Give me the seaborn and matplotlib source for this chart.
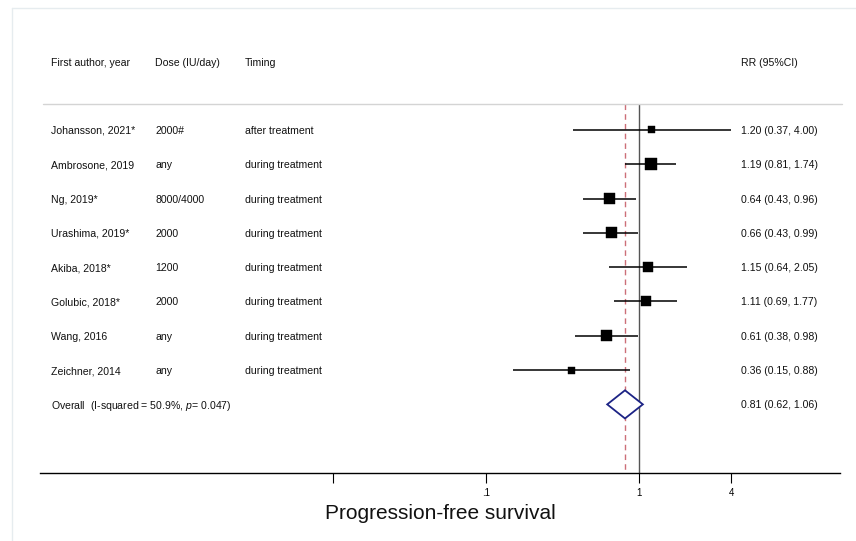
import numpy as np
import pandas as pd
import matplotlib
matplotlib.use("Agg")
import matplotlib.pyplot as plt
import seaborn as sns
from matplotlib import transforms
from matplotlib.patches import Polygon
from matplotlib.lines import Line2D
from matplotlib.ticker import NullLocator, FixedLocator, FixedFormatter

# ---------------- data ----------------
authors = ["Johansson, 2021*", "Ambrosone, 2019", "Ng, 2019*", "Urashima, 2019*",
           "Akiba, 2018*", "Golubic, 2018*", "Wang, 2016", "Zeichner, 2014"]
doses = ["2000#", "any", "8000/4000", "2000", "1200", "2000", "any", "any"]
timings = ["after treatment", "during treatment", "during treatment", "during treatment",
           "during treatment", "during treatment", "during treatment", "during treatment"]
rr = [1.20, 1.19, 0.64, 0.66, 1.15, 1.11, 0.61, 0.36]
ci_low = [0.37, 0.81, 0.43, 0.43, 0.64, 0.69, 0.38, 0.15]
ci_high = [4.00, 1.74, 0.96, 0.99, 2.05, 1.77, 0.98, 0.88]
weights = [6.0, 17.6, 15.2, 15.2, 12.4, 12.4, 15.2, 6.0]
overall_rr = 0.81
overall_low = 0.62
overall_high = 1.06
overall_label = "Overall  (I-squared = 50.9%, $p$= 0.047)"
headers = ["First author, year", "Dose (IU/day)", "Timing", "RR (95%CI)"]
xtick_values = [0.01, 0.1, 1, 4]
xtick_labels = ["", ".1", "1", "4"]
xlabel = "Progression-free survival"

# ---------------- style ----------------
sns.set_style("white")
plt.rcParams["font.family"] = ["Liberation Sans", "DejaVu Sans"]
plt.rcParams["mathtext.fontset"] = "custom"
plt.rcParams["mathtext.it"] = "Liberation Sans:italic"
plt.rcParams["mathtext.rm"] = "Liberation Sans"

df = pd.DataFrame({"rr": rr, "lo": ci_low, "hi": ci_high, "w": weights,
                   "row": np.arange(len(rr))})
n = len(rr)
overall_row = n

fig = plt.figure(figsize=(8.56, 5.41), dpi=100)
W, H = 856, 541
ax = fig.add_axes([40 / W, 68 / H, 800 / W, 446 / H])
ax.set_xscale("log")

txtc = "#111111"
sep_y = -0.76

# reference lines
ax.vlines(1, sep_y, 10, color="#555555", lw=1.0, zorder=1)
ax.vlines(overall_rr, sep_y, 10, color="#cc6f78", lw=1.0,
          linestyles=(0, (4, 3)), zorder=1)

# CI lines and squares
ax.hlines(df["row"], df["lo"], df["hi"], color="black", lw=1.1, zorder=2)
sns.scatterplot(data=df, x="rr", y="row", size="w", sizes=(25, 74), marker="s",
                color="black", edgecolor="black", linewidth=0.3, legend=False,
                ax=ax, zorder=3)

# overall diamond
h = 0.41
diamond = Polygon([(overall_low, overall_row), (overall_rr, overall_row - h),
                   (overall_high, overall_row), (overall_rr, overall_row + h)],
                  closed=True, facecolor="white", edgecolor="#1c2385", lw=1.3, zorder=4)
ax.add_patch(diamond)

ax.set_xlim(1.216e-4, 20.6)
ax.set_ylim(10, -3)
ax.set_yticks([])
ax.set_ylabel("")
for s in ["top", "left", "right"]:
    ax.spines[s].set_visible(False)
ax.spines["bottom"].set_color("black")
ax.spines["bottom"].set_linewidth(1.0)
ax.xaxis.set_major_locator(FixedLocator(xtick_values))
ax.xaxis.set_major_formatter(FixedFormatter(xtick_labels))
ax.xaxis.set_minor_locator(NullLocator())
ax.tick_params(axis="x", length=7, width=0.8, pad=4, labelsize=7,
               direction="out", colors="black", bottom=True)
ax.set_xlabel(xlabel, fontsize=15, labelpad=4, color=txtc)

# separator line
tr = transforms.blended_transform_factory(ax.transAxes, ax.transData)
ax.plot([0.004, 1.0025], [sep_y, sep_y], transform=tr,
        color="#d4d4d4", lw=1.0, clip_on=False)

# text columns
col_x = [0.01375, 0.14375, 0.25625, 0.876]
fs = 7.6
va = "center_baseline"
for cx, htxt in zip(col_x, headers):
    ax.text(cx, -1.98, htxt, transform=tr, fontsize=fs, va=va, ha="left", color=txtc)
for i in range(n):
    ax.text(col_x[0], i, authors[i], transform=tr, fontsize=fs, va=va, color=txtc)
    ax.text(col_x[1], i, doses[i], transform=tr, fontsize=fs, va=va, color=txtc)
    ax.text(col_x[2], i, timings[i], transform=tr, fontsize=fs, va=va, color=txtc)
    ax.text(col_x[3], i, f"{rr[i]:.2f} ({ci_low[i]:.2f}, {ci_high[i]:.2f})",
            transform=tr, fontsize=fs, va=va, color=txtc)
ax.text(col_x[0], overall_row, overall_label, transform=tr, fontsize=fs, va=va, color=txtc)
ax.text(col_x[3], overall_row, f"{overall_rr:.2f} ({overall_low:.2f}, {overall_high:.2f})",
        transform=tr, fontsize=fs, va=va, color=txtc)

# faint outer frame
fig.add_artist(Line2D([12 / W, 1], [1 - 8 / H, 1 - 8 / H], transform=fig.transFigure,
                      color="#e6ecef", lw=1.0))
fig.add_artist(Line2D([12 / W, 12 / W], [0, 1 - 8 / H], transform=fig.transFigure,
                      color="#e6ecef", lw=1.0))

fig.savefig("out.png", dpi=100)
